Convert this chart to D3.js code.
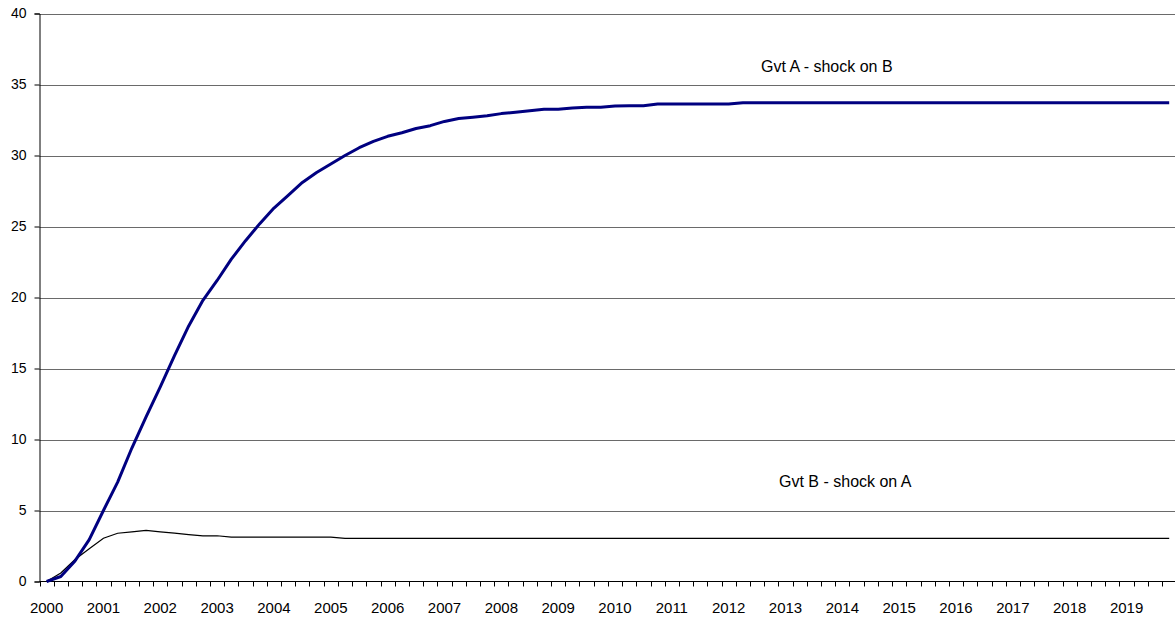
<!DOCTYPE html>
<html>
<head>
<meta charset="utf-8">
<script src="https://cdn.jsdelivr.net/npm/d3@7"></script>
<style>
  html, body { margin: 0; padding: 0; background: #fff; }
  svg { display: block; font-family: "Liberation Sans", Arial, sans-serif; }
</style>
</head>
<body>
<svg id="chart" width="1175" height="619"></svg>
<script>
// ---- data ----
const years = [2000, 2001, 2002, 2003, 2004, 2005, 2006, 2007, 2008, 2009,
               2010, 2011, 2012, 2013, 2014, 2015, 2016, 2017, 2018, 2019];
const quarters = ["Q1", "Q2", "Q3", "Q4"];
const categories = years.flatMap(y => quarters.map(q => y + q));

const gvtA = [
  0, 0.35, 1.45, 2.95, 5.0, 7.0, 9.4, 11.6, 13.7, 15.9,
  18.0, 19.8, 21.2, 22.7, 24.0, 25.2, 26.3, 27.2, 28.1, 28.8,
  29.4, 30.0, 30.55, 31.0, 31.35, 31.6, 31.9, 32.1, 32.4, 32.6,
  32.7, 32.8, 32.95, 33.05, 33.15, 33.25, 33.25, 33.35, 33.4, 33.4,
  33.48, 33.5, 33.5, 33.62, 33.62, 33.62, 33.62, 33.62, 33.62, 33.72,
  33.72, 33.72, 33.72, 33.72, 33.72, 33.72, 33.72, 33.72, 33.72, 33.72,
  33.72, 33.72, 33.72, 33.72, 33.72, 33.72, 33.72, 33.72, 33.72, 33.72,
  33.72, 33.72, 33.72, 33.72, 33.72, 33.72, 33.72, 33.72, 33.72, 33.72
];
const gvtB = [
  0, 0.6, 1.55, 2.3, 3.05, 3.4, 3.5, 3.6, 3.5, 3.4,
  3.3, 3.22, 3.22, 3.13, 3.13, 3.13, 3.13, 3.13, 3.13, 3.13,
  3.13, 3.04, 3.04, 3.04, 3.04, 3.04, 3.04, 3.04, 3.04, 3.04,
  3.04, 3.04, 3.04, 3.04, 3.04, 3.04, 3.04, 3.04, 3.04, 3.04,
  3.04, 3.04, 3.04, 3.04, 3.04, 3.04, 3.04, 3.04, 3.04, 3.04,
  3.04, 3.04, 3.04, 3.04, 3.04, 3.04, 3.04, 3.04, 3.04, 3.04,
  3.04, 3.04, 3.04, 3.04, 3.04, 3.04, 3.04, 3.04, 3.04, 3.04,
  3.04, 3.04, 3.04, 3.04, 3.04, 3.04, 3.04, 3.04, 3.04, 3.04
];
const yTicks = [0, 5, 10, 15, 20, 25, 30, 35, 40];
const labelA = "Gvt A - shock on B";
const labelB = "Gvt B - shock on A";

// ---- layout ----
const svg = d3.select("#chart");
const plotLeft = 39.5, plotRight = 1176.3, plotTop = 13.5, plotBottom = 581.5;

const x = d3.scaleBand().domain(categories).range([plotLeft, plotRight]).paddingInner(0).paddingOuter(0);
const y = d3.scaleLinear().domain([0, 40]).range([plotBottom, plotTop]);
const cx = c => x(c) + x.bandwidth() / 2;

// gridlines
svg.append("g").selectAll("line").data(yTicks.filter(t => t > 0)).join("line")
  .attr("x1", plotLeft).attr("x2", 1175)
  .attr("y1", d => Math.round(y(d)) + 0.5).attr("y2", d => Math.round(y(d)) + 0.5)
  .attr("stroke", "#6a6a6a").attr("stroke-width", 1);

// y axis
const yAxis = d3.axisLeft(y).tickValues(yTicks).tickSize(5).tickPadding(8).tickFormat(d3.format("d"));
const gy = svg.append("g").attr("transform", `translate(${plotLeft},0)`).call(yAxis);
gy.select(".domain").attr("stroke", "#000");
gy.selectAll(".tick line").attr("stroke", "#000");
gy.selectAll(".tick text").attr("font-size", 14).attr("fill", "#000")
  .attr("font-family", "Liberation Sans, Arial, sans-serif");

// x axis: ticks at category boundaries, labels at first quarter of each year
const gx = svg.append("g").attr("transform", `translate(0,${plotBottom})`);
gx.append("line").attr("x1", plotLeft).attr("x2", 1175).attr("y1", 0).attr("y2", 0).attr("stroke", "#000");
gx.selectAll("line.tick").data(categories).join("line").attr("class", "tick")
  .attr("x1", d => Math.round(x(d)) + 0.5).attr("x2", d => Math.round(x(d)) + 0.5)
  .attr("y1", 0).attr("y2", 5).attr("stroke", "#000");
gx.selectAll("text").data(years).join("text")
  .attr("x", d => cx(d + "Q1")).attr("y", 31)
  .attr("text-anchor", "middle").attr("font-size", 15).attr("fill", "#000")
  .text(d => d);

// lines
const line = d3.line().x((d, i) => cx(categories[i])).y(d => y(d));
svg.append("path").datum(gvtB).attr("d", line)
  .attr("fill", "none").attr("stroke", "#000").attr("stroke-width", 1.2);
svg.append("path").datum(gvtA).attr("d", line)
  .attr("fill", "none").attr("stroke", "#000080").attr("stroke-width", 3)
  .attr("stroke-linejoin", "round");

// annotations
svg.append("text").attr("x", 761).attr("y", 71.5).attr("font-size", 16).attr("fill", "#000").text(labelA);
svg.append("text").attr("x", 779).attr("y", 486.5).attr("font-size", 16).attr("fill", "#000").text(labelB);
</script>
</body>
</html>
